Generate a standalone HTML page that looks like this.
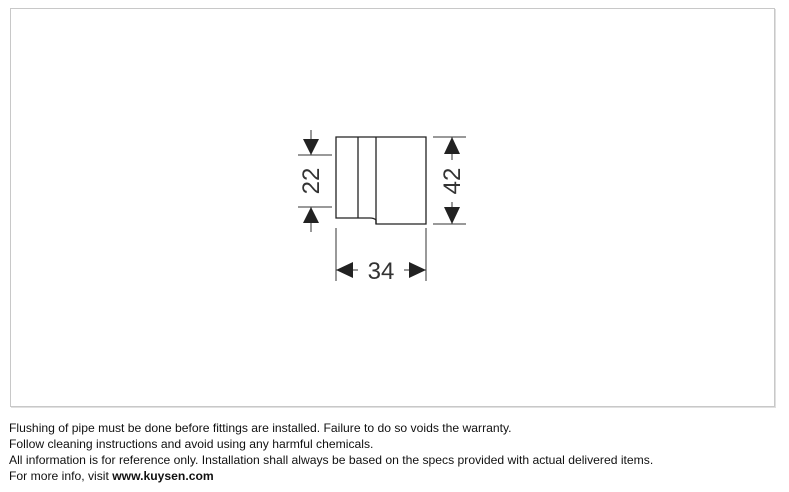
<!DOCTYPE html>
<html><head><style>
body{margin:0;width:789px;height:492px;background:#fff;position:relative;overflow:hidden;font-family:"Liberation Sans",sans-serif}
.frame{position:absolute;left:10px;top:8px;width:763px;height:397px;border:1px solid #c8c8c8;box-shadow:1px 1px 0 #e0e0e0}
.t{position:absolute;left:9px;font-size:12.15px;color:#111;white-space:nowrap}
</style></head><body>
<div class="frame"></div>
<svg width="789" height="492" style="position:absolute;left:0;top:0">
<g stroke="#222" fill="none" stroke-width="1.3">
<path d="M336,137 H426 V224 H376 V220 Q374,218 370,218 H336 Z"/>
<line x1="358" y1="137" x2="358" y2="218"/>
<line x1="376" y1="137" x2="376" y2="224"/>
</g>
<g stroke="#333" stroke-width="1" fill="none">
<line x1="298" y1="155" x2="332" y2="155"/>
<line x1="298" y1="207" x2="332" y2="207"/>
<line x1="311" y1="130" x2="311" y2="155"/>
<line x1="311" y1="207" x2="311" y2="232"/>
<line x1="433" y1="137" x2="466" y2="137"/>
<line x1="433" y1="224" x2="466" y2="224"/>
<line x1="452" y1="137" x2="452" y2="160"/>
<line x1="452" y1="202" x2="452" y2="224"/>
<line x1="336" y1="228" x2="336" y2="281"/>
<line x1="426" y1="228" x2="426" y2="281"/>
<line x1="336" y1="270" x2="358" y2="270"/>
<line x1="404" y1="270" x2="426" y2="270"/>
</g>
<g fill="#222">
<polygon points="311,155 303,139 319,139"/>
<polygon points="311,207 303,223 319,223"/>
<polygon points="452,137 444,154 460,154"/>
<polygon points="452,224 444,207 460,207"/>
<polygon points="336,270 353,262 353,278"/>
<polygon points="426,270 409,262 409,278"/>
</g>
<g font-family="Liberation Sans,sans-serif" font-size="24" fill="#333" text-anchor="middle">
<text x="381" y="279">34</text>
<text transform="translate(319,181) rotate(-90)">22</text>
<text transform="translate(460,181) rotate(-90)">42</text>
</g>
</svg>
<div class="t" style="top:421px">Flushing of pipe must be done before fittings are installed. Failure to do so voids the warranty.</div>
<div class="t" style="top:437px">Follow cleaning instructions and avoid using any harmful chemicals.</div>
<div class="t" style="top:453px">All information is for reference only. Installation shall always be based on the specs provided with actual delivered items.</div>
<div class="t" style="top:469px">For more info, visit <b>www.kuysen.com</b></div>
</body></html>
